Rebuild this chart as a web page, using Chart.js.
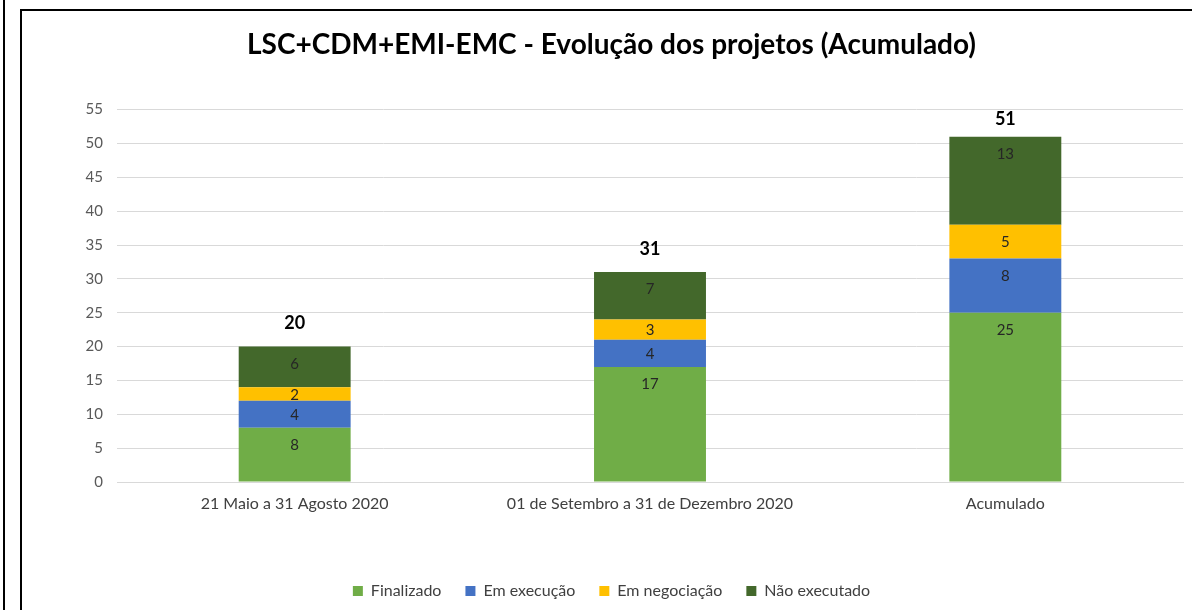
<!DOCTYPE html>
<html>
<head>
<meta charset="utf-8">
<script src="https://cdn.jsdelivr.net/npm/chart.js@4"></script>
<style>
  html, body { margin: 0; padding: 0; background: #fff; }
  #wrap { position: relative; width: 1192px; height: 610px; }
</style>
</head>
<body>
<div id="wrap"><canvas id="grafico"></canvas></div>
<script>
// dados
const periodos = ['21 Maio a 31 Agosto 2020', '01 de Setembro a 31 de Dezembro 2020', 'Acumulado'];
const finalizado = [8, 17, 25];
const emExecucao = [4, 4, 8];
const emNegociacao = [2, 3, 5];
const naoExecutado = [6, 7, 13];
const ticksY = [0, 5, 10, 15, 20, 25, 30, 35, 40, 45, 50, 55];

const fonte = 'Lato, "Open Sans", sans-serif';

// moldura (linhas pretas do print)
const moldura = {
    id: 'moldura',
    beforeDraw(chart) {
        const ctx = chart.ctx;
        ctx.save();
        ctx.fillStyle = '#fff';
        ctx.fillRect(0, 0, chart.width, chart.height);
        ctx.strokeStyle = '#000';
        ctx.lineWidth = 2;
        ctx.beginPath();
        ctx.moveTo(4, 0);
        ctx.lineTo(4, chart.height);
        ctx.moveTo(21, chart.height);
        ctx.lineTo(21, 10);
        ctx.lineTo(chart.width, 10);
        ctx.stroke();
        ctx.restore();
    }
};

// rótulos dentro das barras (perto do topo) + total em cima
const rotulos = {
    id: 'rotulos',
    afterDatasetsDraw(chart) {
        const ctx = chart.ctx;
        ctx.save();
        ctx.textAlign = 'center';
        ctx.textBaseline = 'middle';
        ctx.font = '15px ' + fonte;
        ctx.fillStyle = '#262626';
        chart.data.datasets.forEach((ds, i) => {
            const meta = chart.getDatasetMeta(i);
            meta.data.forEach((bar, j) => {
                // segmentos pequenos: o rótulo fica no meio
                const y = Math.min(bar.y + 17.5, (bar.y + bar.base) / 2 + 1);
                ctx.fillText(ds.data[j], bar.x, y);
            });
        });
        // totais
        const ultimo = chart.getDatasetMeta(chart.data.datasets.length - 1);
        ctx.font = 'bold 18px ' + fonte;
        ctx.fillStyle = '#000';
        ultimo.data.forEach((bar, j) => {
            const total = chart.data.datasets.reduce((s, d) => s + d.data[j], 0);
            const y = Math.max(bar.y - 23, chart.chartArea.top + 10);
            ctx.fillText(total, bar.x, y);
        });
        ctx.restore();
    }
};

new Chart(document.getElementById('grafico'), {
    type: 'bar',
    data: {
        labels: periodos,
        datasets: [
            { label: 'Finalizado', data: finalizado, backgroundColor: '#70AD47' },
            { label: 'Em execução', data: emExecucao, backgroundColor: '#4472C4' },
            { label: 'Em negociação', data: emNegociacao, backgroundColor: '#FFC000' },
            { label: 'Não executado', data: naoExecutado, backgroundColor: '#43682B' }
        ]
    },
    options: {
        responsive: true,
        maintainAspectRatio: false,
        animation: false,
        categoryPercentage: 1,
        barPercentage: 0.315,
        layout: { padding: { left: 40, right: 9, top: 28, bottom: 1 } },
        scales: {
            x: {
                stacked: true,
                grid: { display: false },
                border: { color: '#d9d9d9', width: 1 },
                ticks: { color: '#404040', font: { family: fonte, size: 16 }, padding: 4 },
                afterFit: (s) => { s.height = 77; }
            },
            y: {
                stacked: true,
                min: 0,
                max: 55,
                afterBuildTicks: (s) => { s.ticks = ticksY.map(v => ({ value: v })); },
                afterFit: (s) => { s.width = 77; },
                grid: { color: '#d9d9d9', lineWidth: 1, drawTicks: false },
                border: { display: false },
                ticks: { color: '#595959', font: { family: fonte, size: 15 }, padding: 14 }
            }
        },
        plugins: {
            title: {
                display: true,
                text: 'LSC+CDM+EMI-EMC - Evolução dos projetos (Acumulado)',
                color: '#000',
                font: { family: fonte, size: 28, weight: 'bold' },
                padding: { top: 0, bottom: 48 }
            },
            legend: {
                position: 'bottom',
                labels: {
                    color: '#404040',
                    font: { family: fonte, size: 16 },
                    boxWidth: 10,
                    boxHeight: 10,
                    padding: 24
                }
            },
            tooltip: { enabled: false }
        }
    },
    plugins: [moldura, rotulos]
});
</script>
</body>
</html>
